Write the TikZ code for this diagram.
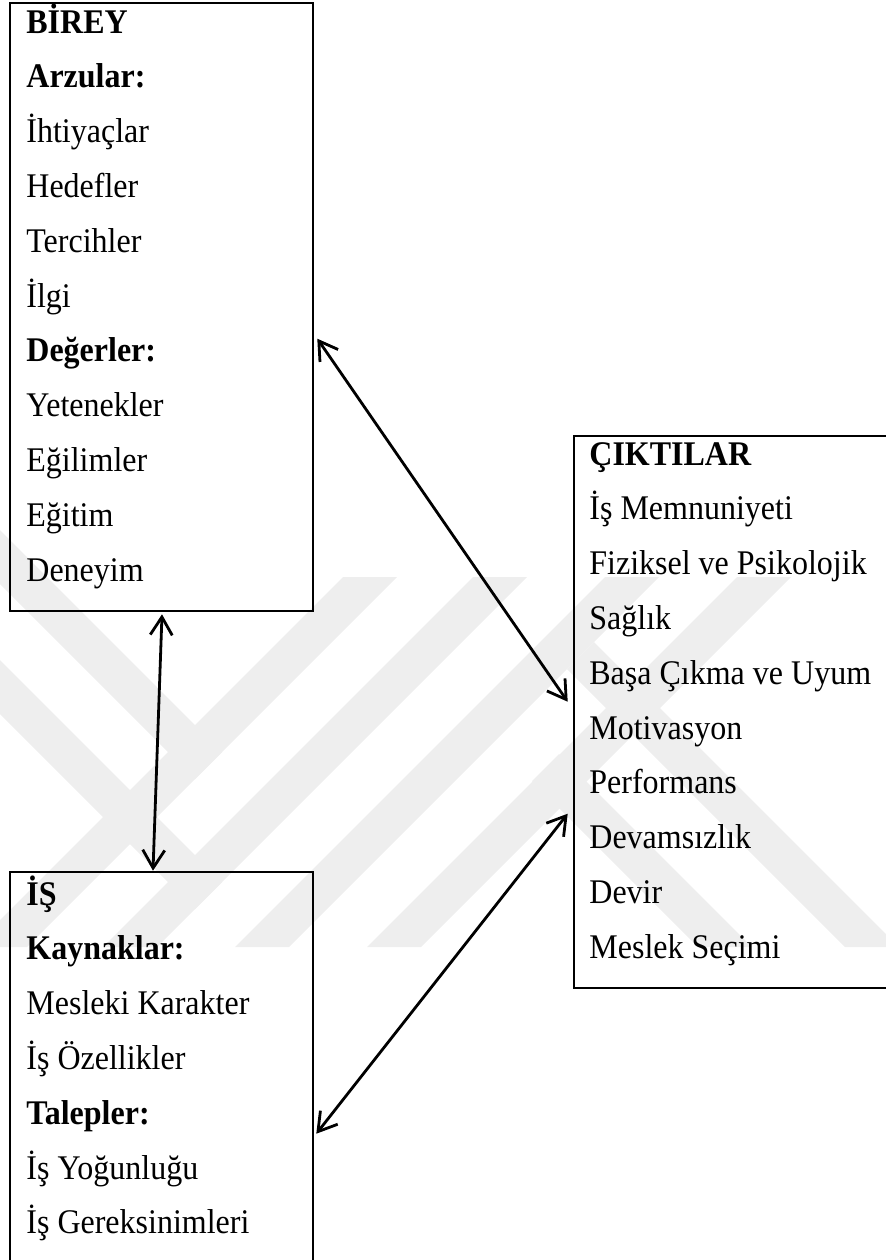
\documentclass[tikz,border=0pt]{standalone}
\usepackage{fontspec}
\setmainfont{Liberation Serif}
\usetikzlibrary{arrows.meta,calc}
\definecolor{wmgray}{RGB}{238,238,238}
\tikzset{
  panel/.style={draw=black, line width=1.3pt, rectangle, inner sep=0pt},
  entry/.style={anchor=base west, inner sep=0pt, font=\fontsize{16}{19}\selectfont},
  head/.style={entry, font=\fontsize{16}{19}\selectfont\bfseries},
  link/.style={line width=1.4pt,
    {Straight Barb[length=9pt,width=11pt]}-{Straight Barb[length=9pt,width=11pt]}},
  stripe/.style={fill=wmgray, draw=none}
}
\newcommand{\tall}[1]{\scalebox{1}[1.08]{#1}}
\begin{document}
\begin{tikzpicture}[x=0.5pt,y=-0.5pt]
\useasboundingbox (0,0) rectangle (886,1260);
\clip (0,0) rectangle (886,1260);

% background emblem: light diagonal stripes
\fill[stripe] (343,577) -- (397,577) -- (27,947) -- (-27,947) -- cycle;
\fill[stripe] (473,577) -- (527,577) -- (157,947) -- (103,947) -- cycle;
\fill[stripe] (605,577) -- (659,577) -- (289,947) -- (235,947) -- cycle;
\fill[stripe] (737,577) -- (791,577) -- (421,947) -- (367,947) -- cycle;
\fill[stripe] (0,530) -- (222,752) -- (195,779) -- (0,584) -- cycle;
\fill[stripe] (0,660) -- (222,882) -- (195,909) -- (0,714) -- cycle;
\fill[stripe] (559,754) -- (752,947) -- (698,947) -- (532,781) -- cycle;
\fill[stripe] (594,642) -- (899,947) -- (845,947) -- (567,669) -- cycle;

% boxes
\node[panel, minimum width=151.5pt, minimum height=304pt] (birey) at (161.5,307) {};
\node[panel, minimum width=151.5pt, minimum height=204pt] (is) at (161.5,1076) {};
\node[panel, minimum width=163pt, minimum height=276pt] (cikti) at (737,712) {};

% box contents
\foreach \s/\t [count=\i from 0] in {head/BİREY, head/Arzular:, entry/İhtiyaçlar,
    entry/Hedefler, entry/Tercihler, entry/İlgi, head/Değerler:, entry/Yetenekler,
    entry/Eğilimler, entry/Eğitim, entry/Deneyim}
  \node[\s] (b\i) at (26,{33+54.8*\i}) {\tall{\t}};

\foreach \s/\t [count=\i from 0] in {head/ÇIKTILAR, entry/İş Memnuniyeti,
    entry/Fiziksel ve Psikolojik, entry/Sağlık, entry/Başa Çıkma ve Uyum,
    entry/Motivasyon, entry/Performans, entry/Devamsızlık, entry/Devir,
    entry/Meslek Seçimi}
  \node[\s] (c\i) at (589,{465+54.8*\i}) {\tall{\t}};

\foreach \s/\t [count=\i from 0] in {head/İŞ, head/Kaynaklar:, entry/Mesleki Karakter,
    entry/İş Özellikler, head/Talepler:, entry/İş Yoğunluğu, entry/İş Gereksinimleri}
  \node[\s] (j\i) at (26,{905+54.8*\i}) {\tall{\t}};

% connectors
\draw[link] ($(birey.north east)+(3,337)$) -- ($(cikti.north west)+(-5,267)$);
\draw[link] ($(birey.south)+(0.5,2)$) -- ($(is.north)+(-8.5,0)$);
\draw[link] ($(cikti.north west)+(-5,379)$) -- ($(is.north east)+(2,263)$);
\end{tikzpicture}
\end{document}
